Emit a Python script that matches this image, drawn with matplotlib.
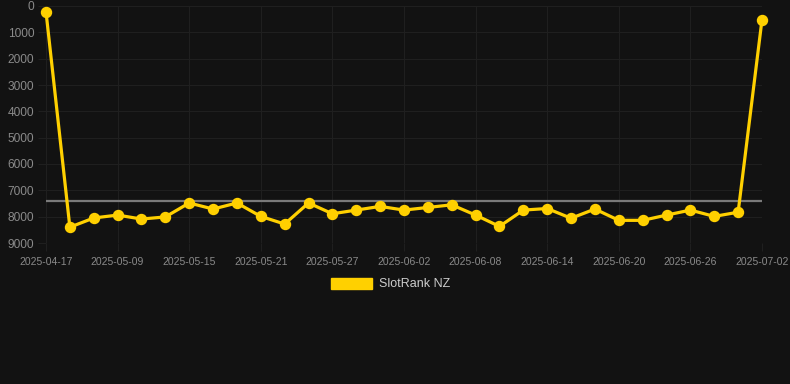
import matplotlib
matplotlib.use("Agg")

import matplotlib.pyplot as plt
from matplotlib.patches import Patch

plt.rcParams["font.family"] = ["Liberation Sans", "DejaVu Sans"]


# =========================
# DATA
# =========================

dates = [
    "2025-04-17", "2025-05-05", "2025-05-07", "2025-05-09", "2025-05-11",
    "2025-05-13", "2025-05-15", "2025-05-17", "2025-05-19", "2025-05-21",
    "2025-05-23", "2025-05-25", "2025-05-27", "2025-05-29", "2025-05-31",
    "2025-06-02", "2025-06-04", "2025-06-06", "2025-06-08", "2025-06-10",
    "2025-06-12", "2025-06-14", "2025-06-16", "2025-06-18", "2025-06-20",
    "2025-06-22", "2025-06-24", "2025-06-26", "2025-06-28", "2025-06-30",
    "2025-07-02",
]

ranks = [
    220, 8400, 8050, 7940, 8090, 8010, 7480, 7710, 7480, 7990,
    8280, 7480, 7890, 7750, 7610, 7750, 7650, 7550, 7940, 8370,
    7750, 7690, 8060, 7710, 8140, 8140, 7940, 7750, 7990, 7830,
    520,
]

series_name = "SlotRank NZ"

BG = "#121212"
GOLD = "#ffd000"
GRID = "#1f1f1f"
TICK = "#8a8a8a"


# =========================
# FIGURE
# =========================

fig = plt.figure(figsize=(7.9, 3.84), dpi=100, facecolor=BG)
ax = fig.add_axes([46 / 790, 1 - 243 / 384, 716 / 790, 237 / 384])
ax.set_facecolor(BG)

x = list(range(len(dates)))
avg = sum(ranks) / len(ranks)

ax.plot([x[0], x[-1]], [avg, avg], color="#7a7a7a", linewidth=1.6, zorder=2)
ax.plot(x, ranks, color=GOLD, linewidth=2.3, marker="o", markersize=7.2,
        markerfacecolor=GOLD, markeredgecolor=GOLD, zorder=3, clip_on=False)

ax.set_xlim(0, len(dates) - 1)
ax.set_ylim(9000, 0)
ax.set_yticks(range(0, 9001, 1000))
ax.set_xticks(x[::3])
ax.set_xticklabels(dates[::3])

ax.grid(True, color=GRID, linewidth=0.8)
for s in ax.spines.values():
    s.set_visible(False)

ax.tick_params(axis="x", colors=GRID, labelcolor=TICK, labelsize=7.5,
               length=6, width=0.8, pad=4)
ax.tick_params(axis="y", colors=GRID, labelcolor=TICK, labelsize=8.6,
               length=6, width=0.8, pad=2.5)

leg = fig.legend(handles=[Patch(facecolor=GOLD, edgecolor=GOLD, label=series_name)],
                 loc="center", bbox_to_anchor=(0.494, 1 - 284 / 384),
                 frameon=False, fontsize=9, handlelength=3.3, handleheight=1.0,
                 handletextpad=0.55, labelcolor="#cccccc")

plt.savefig("out.png", dpi=100, facecolor=BG)
plt.close()
